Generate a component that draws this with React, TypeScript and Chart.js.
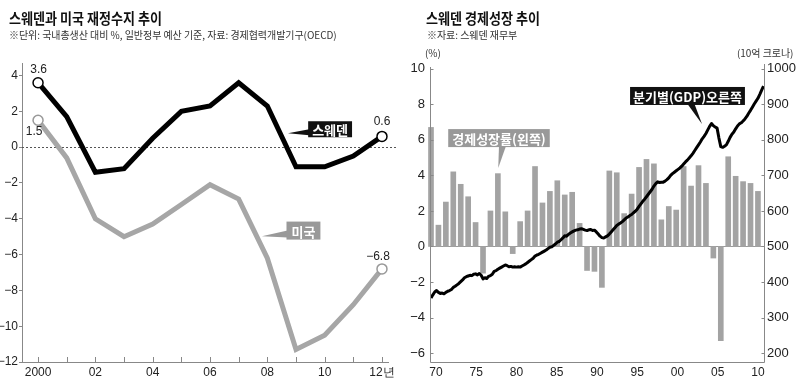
import React, { useEffect, useRef } from 'react';
import { Chart, registerables } from 'chart.js';

Chart.register(...registerables);

// ---------- Left chart data: 재정수지 (GDP 대비 %) ----------
const fiscalYears = [2000, 2001, 2002, 2003, 2004, 2005, 2006, 2007, 2008, 2009, 2010, 2011, 2012];
const swedenBalance = [3.6, 1.7, -1.4, -1.2, 0.5, 2.0, 2.3, 3.6, 2.3, -1.1, -1.1, -0.5, 0.6];
const usBalance = [1.5, -0.6, -4.0, -5.0, -4.3, -3.2, -2.1, -2.9, -6.2, -11.3, -10.5, -8.8, -6.8];
const fiscalTicks = [-12, -10, -8, -6, -4, -2, 0, 2, 4];

// ---------- Right chart data: 경제성장률 (%) and 분기별 GDP (10억 크로나) ----------
const growthYears = [
  1970, 1971, 1972, 1973, 1974, 1975, 1976, 1977, 1978, 1979,
  1980, 1981, 1982, 1983, 1984, 1985, 1986, 1987, 1988, 1989,
  1990, 1991, 1992, 1993, 1994, 1995, 1996, 1997, 1998, 1999,
  2000, 2001, 2002, 2003, 2004, 2005, 2006, 2007, 2008, 2009,
  2010, 2011, 2012, 2013, 2014,
];
const growthRates = [
  6.7, 1.2, 2.5, 4.2, 3.5, 2.8, 1.35, -1.5, 2.0, 4.1,
  1.95, -0.4, 1.4, 2.0, 4.5, 2.45, 3.1, 3.7, 2.9, 3.05,
  1.3, -1.35, -1.4, -2.3, 4.25, 4.15, 1.85, 2.95, 4.45, 4.9,
  4.65, 1.5, 2.25, 2.05, 4.5, 3.4, 4.55, 3.55, -0.65, -5.3,
  5.05, 3.95, 3.65, 3.55, 3.1,
];
const gdpStartYear = 1970;
const gdpQuarterly = [
  355, 364, 372, 376, 371, 368, 369, 367, 371, 374, 376, 379,
  385, 388, 392, 396, 401, 406, 412, 415, 417, 419, 418, 422,
  423, 420, 424, 419, 409, 412, 410, 416, 418, 422, 430, 432,
  436, 439, 442, 445, 448, 446, 443, 444, 442, 443, 442, 443,
  442, 445, 448, 451, 455, 459, 463, 467, 473, 476, 478, 481,
  484, 487, 490, 494, 498, 499, 503, 507, 512, 514, 519, 524,
  530, 529, 534, 538, 541, 544, 546, 547, 549, 550, 548, 546,
  545, 547, 548, 545, 546, 541, 535, 529, 525, 524, 527, 530,
  535, 541, 547, 553, 559, 563, 566, 570, 575, 580, 583, 587,
  590, 595, 599, 605, 613, 620, 627, 633, 640, 647, 654, 661,
  670, 677, 682, 680, 681, 681, 684, 688, 693, 700, 705, 709,
  713, 717, 721, 726, 732, 738, 743, 749, 755, 762, 770, 778,
  786, 794, 803, 810, 818, 828, 838, 846, 840, 836, 833, 805,
  781, 779, 782, 786, 796, 807, 816, 822, 831, 839, 845, 848,
  853, 859, 866, 875, 883, 892, 901, 909, 917, 928, 940, 951,
];
const growthTickYears = [1970, 1975, 1980, 1985, 1990, 1995, 2000, 2005, 2010];
const growthTicks = [-6, -4, -2, 0, 2, 4, 6, 8, 10];
const gdpTicks = [200, 300, 400, 500, 600, 700, 800, 900, 1000];

// ---------- styles ----------
const KR = '"Noto Sans CJK KR", "Noto Sans", sans-serif';
const NUM = '"Liberation Sans", Arial, sans-serif';
const AXIS = '#888';
const GREY_LINE = '#a6a6a6';
const GREY_BAR = '#a3a3a3';
const CALLOUT_FONT = `bold 13px ${KR}`;

const minusFmt = (v: number) => (v < 0 ? '\u2212' + Math.abs(v) : String(v));
const setTicks = (arr: number[]) => (s: any) => { s.ticks = arr.map((value) => ({ value })); };

type Callout = {
  text: string; xAxis: string; yAxis: string;
  boxX: number; boxY: number; tipX: number; tipY: number;
  fill: string; side: 'left' | 'bottom'; padX: number; h: number;
};

function drawCallout(ctx: CanvasRenderingContext2D, chart: any, c: Callout) {
  const xs = chart.scales[c.xAxis];
  const ys = chart.scales[c.yAxis];
  const cx = xs.getPixelForValue(c.boxX);
  const cy = ys.getPixelForValue(c.boxY);
  const tx = xs.getPixelForValue(c.tipX);
  const ty = ys.getPixelForValue(c.tipY);
  ctx.save();
  ctx.font = CALLOUT_FONT;
  const w = ctx.measureText(c.text).width + c.padX * 2;
  const h = c.h;
  const left = cx - w / 2;
  const top = cy - h / 2;
  ctx.fillStyle = c.fill;
  ctx.beginPath();
  if (c.side === 'left') {
    ctx.moveTo(left + 1, cy);
    ctx.lineTo(left + 1, cy + h / 2 - 2);
  } else {
    ctx.moveTo(cx, top + h - 1);
    ctx.lineTo(cx + 7, top + h - 1);
  }
  ctx.lineTo(tx, ty);
  ctx.closePath();
  ctx.fill();
  ctx.fillRect(left, top, w, h);
  ctx.fillStyle = '#fff';
  ctx.textAlign = 'center';
  ctx.textBaseline = 'middle';
  ctx.fillText(c.text, cx, cy + 1);
  ctx.restore();
}

const leftCallouts: Callout[] = [
  { text: '스웨덴', xAxis: 'x', yAxis: 'y', boxX: 2010.19, boxY: 1.0, tipX: 2008.72, tipY: 0.78, fill: '#111', side: 'left', padX: 4, h: 16 },
  { text: '미국', xAxis: 'x', yAxis: 'y', boxX: 2009.26, boxY: -4.66, tipX: 2007.81, tipY: -4.97, fill: '#999', side: 'left', padX: 5, h: 18 },
];
const rightCallouts: Callout[] = [
  { text: '경제성장률(왼쪽)', xAxis: 'xb', yAxis: 'y', boxX: 1979.15, boxY: 6.1, tipX: 1979.05, tipY: 4.41, fill: '#999', side: 'bottom', padX: 4, h: 18 },
  { text: '분기별(GDP)오른쪽', xAxis: 'xb', yAxis: 'y', boxX: 2004.52, boxY: 8.47, tipX: 2006.47, tipY: 6.89, fill: '#111', side: 'bottom', padX: 3, h: 18 },
];

const pointLabels = [
  { ds: 0, idx: 0, text: '3.6', dx: 0.5, dy: -13.5 },
  { ds: 0, idx: 12, text: '0.6', dx: 0, dy: -15 },
  { ds: 1, idx: 0, text: '1.5', dx: -4, dy: 11.5 },
  { ds: 1, idx: 12, text: '\u22126.8', dx: -4, dy: -12 },
];

const leftPlugin = {
  id: 'leftDecor',
  beforeDatasetsDraw(chart: any) {
    const { ctx, chartArea } = chart;
    const y0 = chart.scales.y.getPixelForValue(0);
    ctx.save();
    ctx.strokeStyle = '#555';
    ctx.lineWidth = 1;
    ctx.setLineDash([2, 2]);
    ctx.beginPath();
    ctx.moveTo(chartArea.left, Math.round(y0) + 0.5);
    ctx.lineTo(chartArea.right + 9, Math.round(y0) + 0.5);
    ctx.stroke();
    ctx.restore();
  },
  afterDatasetsDraw(chart: any) {
    const { ctx, chartArea } = chart;
    const xs = chart.scales.x;
    ctx.save();
    ctx.strokeStyle = AXIS;
    ctx.lineWidth = 1;
    xs.ticks.forEach((t: any) => {
      const px = Math.round(xs.getPixelForValue(t.value)) + 0.5;
      ctx.beginPath();
      ctx.moveTo(px, chartArea.bottom);
      ctx.lineTo(px, chartArea.bottom - 5);
      ctx.stroke();
    });
    ctx.font = `12px ${NUM}`;
    ctx.fillStyle = '#222';
    ctx.textAlign = 'center';
    ctx.textBaseline = 'middle';
    pointLabels.forEach((p) => {
      const el = chart.getDatasetMeta(p.ds).data[p.idx];
      ctx.fillText(p.text, el.x + p.dx, el.y + p.dy);
    });
    ctx.restore();
    leftCallouts.forEach((c) => drawCallout(ctx, chart, c));
  },
};

const rightPlugin = {
  id: 'rightDecor',
  beforeDatasetsDraw(chart: any) {
    const { ctx, chartArea } = chart;
    const y0 = Math.round(chart.scales.y.getPixelForValue(0)) + 0.5;
    ctx.save();
    ctx.strokeStyle = '#999';
    ctx.lineWidth = 1;
    ctx.beginPath();
    ctx.moveTo(chartArea.left, y0);
    ctx.lineTo(chartArea.right, y0);
    ctx.stroke();
    ctx.restore();
  },
  afterDatasetsDraw(chart: any) {
    const { ctx, chartArea } = chart;
    ctx.save();
    ctx.strokeStyle = AXIS;
    ctx.lineWidth = 1;
    const l = Math.round(chartArea.left) - 0.5;
    const r = Math.round(chartArea.right) - 0.5;
    const b = Math.round(chartArea.bottom) + 0.5;
    ctx.beginPath();
    ctx.moveTo(l, chartArea.top);
    ctx.lineTo(l, b);
    ctx.lineTo(r, b);
    ctx.moveTo(r, chartArea.top - 3);
    ctx.lineTo(r, b);
    ctx.stroke();
    const ys = chart.scales.y;
    ys.ticks.forEach((t: any) => {
      const py = Math.round(ys.getPixelForValue(t.value)) + 0.5;
      ctx.beginPath();
      ctx.moveTo(l, py);
      ctx.lineTo(l + 3, py);
      ctx.stroke();
    });
    const y2 = chart.scales.y2;
    y2.ticks.forEach((t: any) => {
      const py = Math.round(y2.getPixelForValue(t.value)) + 0.5;
      ctx.beginPath();
      ctx.moveTo(r - 3, py);
      ctx.lineTo(r, py);
      ctx.stroke();
    });
    ctx.restore();
    rightCallouts.forEach((c) => drawCallout(ctx, chart, c));
  },
};

function LeftChart() {
  const ref = useRef<HTMLCanvasElement>(null);
  useEffect(() => {
    const endRadius = fiscalYears.map((_, i) => (i === 0 || i === fiscalYears.length - 1 ? 5 : 0));
    const chart = new Chart(ref.current as HTMLCanvasElement, {
      type: 'line',
      data: {
        datasets: [
          {
            label: '스웨덴',
            data: fiscalYears.map((x, i) => ({ x, y: swedenBalance[i] })),
            borderColor: '#000',
            borderWidth: 5,
            borderJoinStyle: 'miter',
            tension: 0,
            pointRadius: endRadius,
            pointBackgroundColor: '#fff',
            pointBorderColor: '#000',
            pointBorderWidth: 1.5,
            order: 0,
          },
          {
            label: '미국',
            data: fiscalYears.map((x, i) => ({ x, y: usBalance[i] })),
            borderColor: GREY_LINE,
            borderWidth: 5,
            borderJoinStyle: 'miter',
            tension: 0,
            pointRadius: endRadius,
            pointBackgroundColor: '#fff',
            pointBorderColor: '#999',
            pointBorderWidth: 1.5,
            order: 1,
          },
        ],
      },
      options: {
        animation: false,
        responsive: false,
        layout: { padding: { top: 63, right: 12, left: 0, bottom: 0 } },
        plugins: { legend: { display: false }, tooltip: { enabled: false } },
        scales: {
          x: {
            type: 'linear',
            offset: false,
            min: 1999.44,
            max: 2012.21,
            afterBuildTicks: setTicks(fiscalYears),
            afterFit: (s: any) => { s.height = 25; },
            ticks: {
              autoSkip: false,
              maxRotation: 0,
              padding: 3,
              color: '#222',
              font: { family: NUM, size: 12 },
              callback: (v: any) => {
                if (v % 2 !== 0) return '';
                if (v === 2000) return '2000';
                if (v === 2012) return '12년';
                return String(v).slice(2);
              },
            },
            grid: { display: false, drawTicks: false },
            border: { color: AXIS },
          },
          y: {
            min: -12,
            max: 4.7,
            afterBuildTicks: setTicks(fiscalTicks),
            afterFit: (s: any) => { s.width = 22; },
            ticks: {
              autoSkip: false,
              padding: 1,
              color: '#222',
              font: { family: NUM, size: 12 },
              callback: (v: any) => minusFmt(v),
            },
            grid: { drawOnChartArea: false, drawTicks: true, tickLength: 3, color: AXIS },
            border: { color: AXIS },
          },
        },
      } as any,
      plugins: [leftPlugin],
    });
    return () => chart.destroy();
  }, []);
  return <canvas ref={ref} width={400} height={387} style={{ position: 'absolute', left: 0, top: 0 }} />;
}

function RightChart() {
  const ref = useRef<HTMLCanvasElement>(null);
  useEffect(() => {
    const chart = new Chart(ref.current as HTMLCanvasElement, {
      type: 'bar',
      data: {
        datasets: [
          {
            type: 'line',
            label: '분기별(GDP)',
            data: gdpQuarterly.map((v, i) => ({ x: gdpStartYear + i / 4, y: v })),
            xAxisID: 'xb',
            yAxisID: 'y2',
            borderColor: '#000',
            borderWidth: 3,
            borderJoinStyle: 'round',
            pointRadius: 0,
            tension: 0,
            order: 0,
          },
          {
            type: 'bar',
            label: '경제성장률',
            data: growthYears.map((x, i) => ({ x, y: growthRates[i] })),
            xAxisID: 'xb',
            yAxisID: 'y',
            backgroundColor: GREY_BAR,
            barThickness: 5,
            clip: false,
            order: 1,
          },
        ],
      },
      options: {
        animation: false,
        responsive: false,
        layout: { padding: { top: 67, right: 0, left: 0, bottom: 0 } },
        plugins: { legend: { display: false }, tooltip: { enabled: false } },
        scales: {
          x: {
            type: 'linear',
            position: 'bottom',
            offset: false,
            min: 1969.38,
            max: 2010.87,
            afterBuildTicks: setTicks(growthTickYears),
            afterFit: (s: any) => { s.height = 25; },
            ticks: {
              autoSkip: false,
              maxRotation: 0,
              padding: 3,
              color: '#222',
              font: { family: NUM, size: 12 },
              callback: (v: any) => String(v).slice(2),
            },
            grid: { display: false, drawTicks: false, offset: false },
            border: { display: false },
          },
          xb: { type: 'linear', display: false, offset: false, grid: { offset: false }, min: 1970, max: 2014.95 },
          y: {
            position: 'left',
            min: -6.5,
            max: 10.1,
            afterBuildTicks: setTicks(growthTicks),
            afterFit: (s: any) => { s.width = 31; },
            ticks: {
              autoSkip: false,
              padding: 6,
              color: '#222',
              font: { family: NUM, size: 13 },
              callback: (v: any) => minusFmt(v),
            },
            grid: { display: false, drawTicks: false },
            border: { display: false },
          },
          y2: {
            position: 'right',
            min: 175,
            max: 1005,
            afterBuildTicks: setTicks(gdpTicks),
            afterFit: (s: any) => { s.width = 35; },
            ticks: {
              autoSkip: false,
              padding: 2,
              color: '#222',
              font: { family: NUM, size: 13 },
              callback: (v: any) => String(v),
            },
            grid: { display: false, drawTicks: false },
            border: { display: false },
          },
        },
      } as any,
      plugins: [rightPlugin],
    });
    return () => chart.destroy();
  }, []);
  return <canvas ref={ref} width={400} height={387} style={{ position: 'absolute', left: 400, top: 0 }} />;
}

const titleStyle: React.CSSProperties = {
  position: 'absolute', fontFamily: KR, fontWeight: 700, fontSize: 15, lineHeight: '18px',
  color: '#111', whiteSpace: 'nowrap', transform: 'scaleX(0.87)', transformOrigin: '0 0',
};
const subStyle: React.CSSProperties = {
  position: 'absolute', fontFamily: KR, fontSize: 10, lineHeight: '12px', color: '#333',
  whiteSpace: 'nowrap', letterSpacing: '-0.05px',
};

export default function App() {
  return (
    <div style={{ position: 'fixed', left: 0, top: 0, width: 800, height: 387, background: '#fff', overflow: 'hidden' }}>
      <LeftChart />
      <RightChart />
      <div style={{ ...titleStyle, left: 9, top: 9 }}>스웨덴과 미국 재정수지 추이</div>
      <div style={{ ...subStyle, left: 9, top: 29 }}>※단위: 국내총생산 대비 %, 일반정부 예산 기준, 자료: 경제협력개발기구(OECD)</div>
      <div style={{ ...titleStyle, left: 426, top: 9 }}>스웨덴 경제성장 추이</div>
      <div style={{ ...subStyle, left: 427, top: 29 }}>※자료: 스웨덴 재무부</div>
      <div style={{ ...subStyle, left: 425, top: 47 }}>(%)</div>
      <div style={{ ...subStyle, left: 737, top: 47 }}>(10억 크로나)</div>
    </div>
  );
}
